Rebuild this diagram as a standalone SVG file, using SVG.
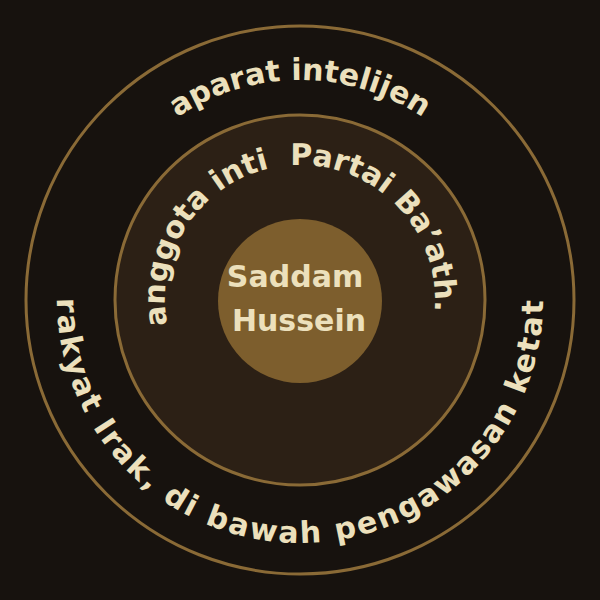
<svg xmlns="http://www.w3.org/2000/svg" width="600" height="600" viewBox="0 0 600 600">
  <defs>
    <style>
      .ring { stroke: #8a6a36; stroke-width: 3; }
      .lbl { font-family: "DejaVu Sans", "Liberation Sans", sans-serif; font-weight: bold; fill: #ece0bc; font-size: 30px; }
    </style>
    <path id="pTop" d="M 300,520 A 220,220 0 1 1 300,80 A 220,220 0 1 1 300,520"/>
    <path id="pBottom" d="M 300,57 A 243,243 0 1 0 300,543 A 243,243 0 1 0 300,57"/>
    <path id="pMid" d="M 300,435 A 135,135 0 1 1 300,165 A 135,135 0 1 1 300,435"/>
  </defs>
  <rect x="0" y="0" width="600" height="600" fill="#17120e"/>
  <g id="outer">
    <circle class="ring" cx="300" cy="300" r="274" fill="#17120e"/>
    <text class="lbl" text-anchor="middle"><textPath href="#pTop" startOffset="50%">aparat intelijen</textPath></text>
    <text class="lbl" text-anchor="middle" letter-spacing="2.2"><textPath href="#pBottom" startOffset="50%">rakyat Irak, di bawah pengawasan ketat</textPath></text>
  </g>
  <g id="middle">
    <circle class="ring" cx="300" cy="300" r="185" fill="#2c2015"/>
    <text class="lbl" text-anchor="middle" xml:space="preserve"><textPath href="#pMid" startOffset="49.2%">anggota inti  Partai Ba’ath.</textPath></text>
  </g>
  <g id="center">
    <circle cx="300" cy="301" r="82" fill="#7d5e2d"/>
    <text class="lbl" x="295" y="287" text-anchor="middle">Saddam</text>
    <text class="lbl" x="299" y="331" text-anchor="middle">Hussein</text>
  </g>
</svg>
